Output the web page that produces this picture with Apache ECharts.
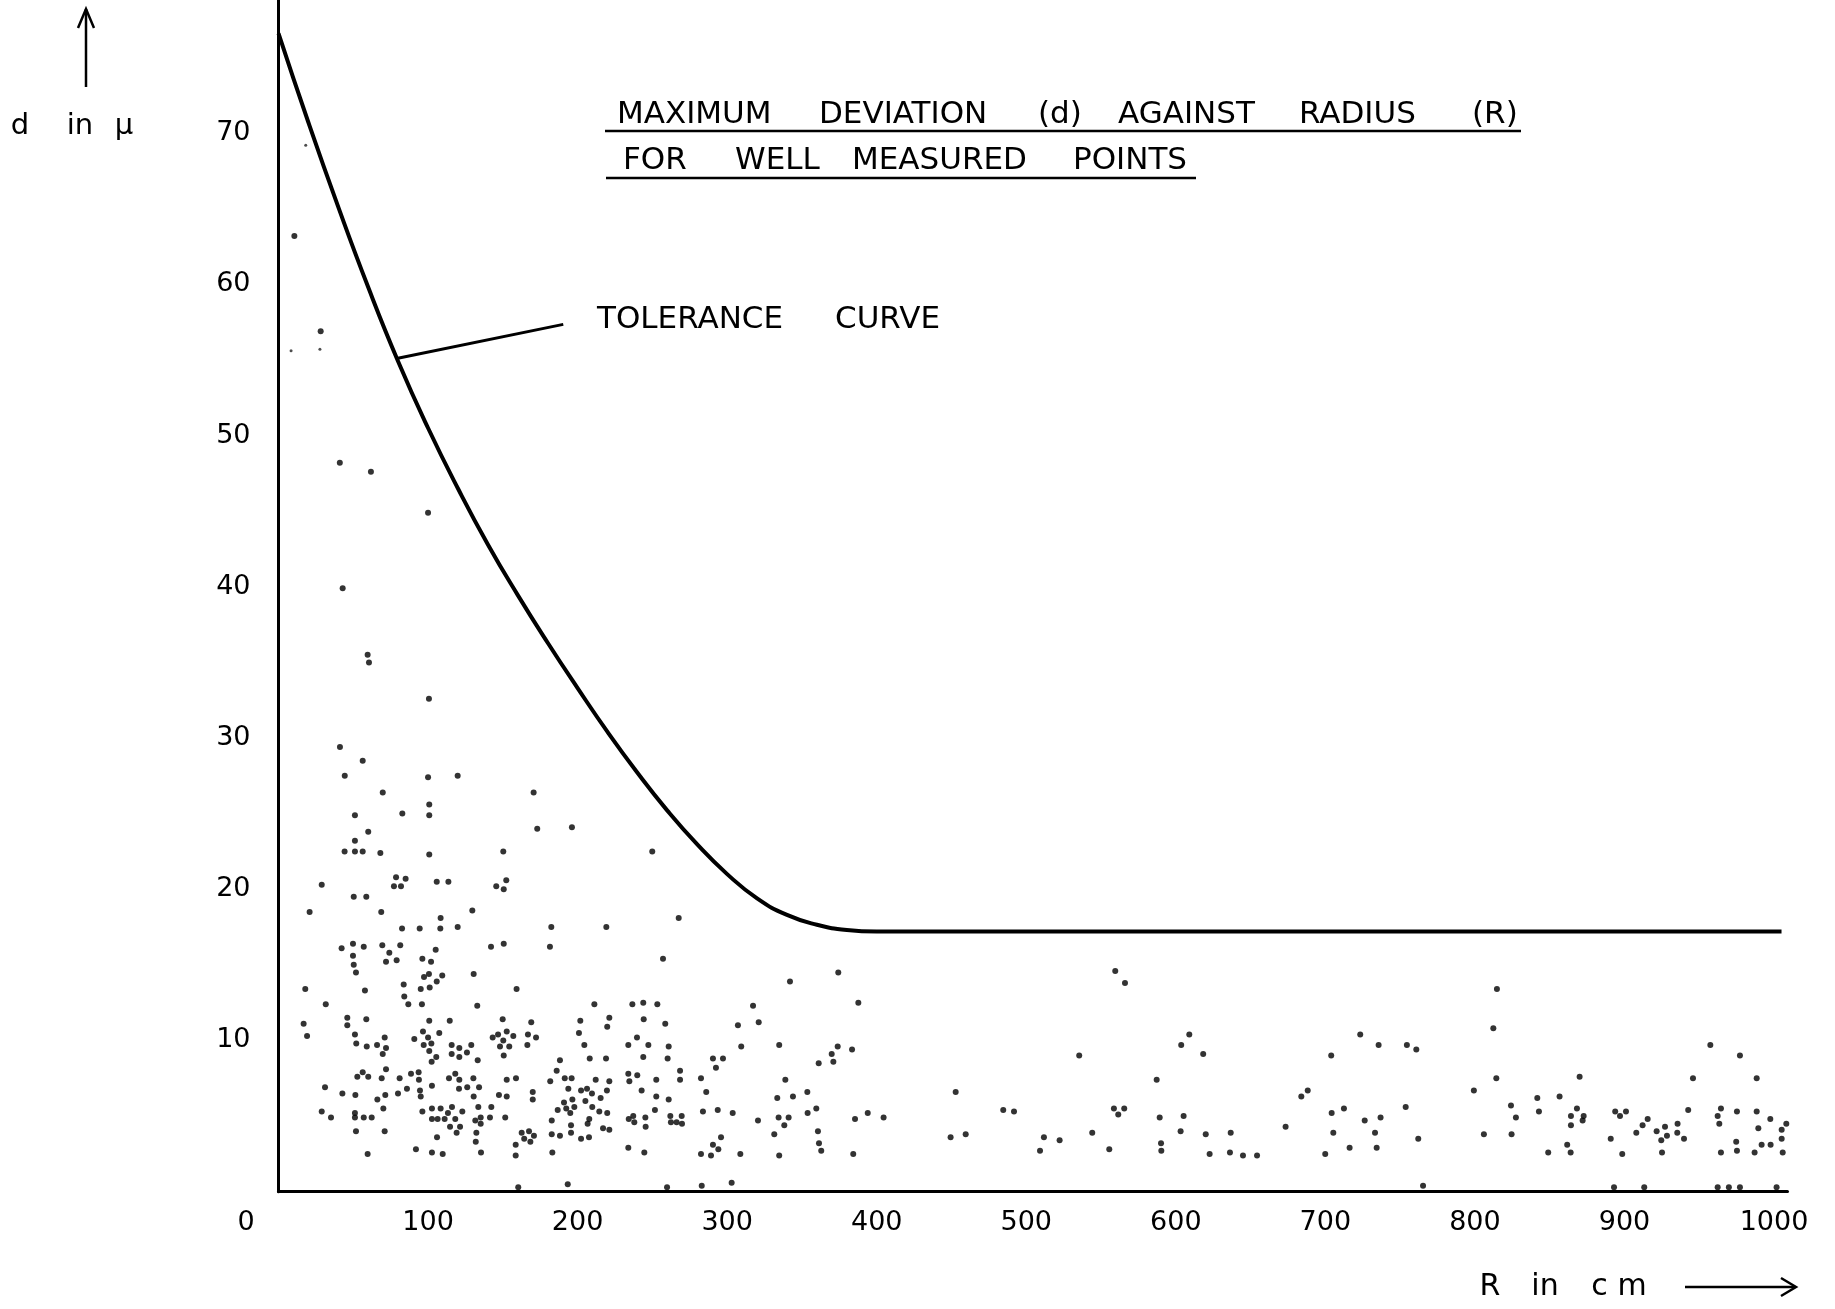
<!DOCTYPE html>
<html>
<head>
<meta charset="utf-8">
<script src="https://cdn.jsdelivr.net/npm/echarts@6/dist/echarts.min.js"></script>
<style>
html, body { margin: 0; padding: 0; background: #fff; }
#chart { width: 1835px; height: 1309px; }
</style>
</head>
<body>
<div id="chart"></div>
<script>
// tick labels
const xTickLabels = [100, 200, 300, 400, 500, 600, 700, 800, 900, 1000]
const yTickLabels = [10, 20, 30, 40, 50, 60, 70]

// tolerance curve, R in cm -> d in micron
const curveR = [0, 20, 40, 60, 80, 100, 120, 140, 160, 180, 200, 220, 240, 260, 280, 300, 320, 340, 360, 380, 400, 420, 1005]
const curveD = [76.6, 70.7, 65.1, 59.8, 54.9, 50.5, 46.5, 42.8, 39.45, 36.3, 33.3, 30.4, 27.7, 25.2, 22.96, 21.0, 19.4, 18.3, 17.65, 17.3, 17.2, 17.2, 17.2]

// leader line from the label to the curve
const leaderR = [79, 190.4]
const leaderD = [55.1, 57.35]

// measured points [R, d]
const points = [
	[10.6,63.2],[28.2,56.9],[41,48.2],[61.8,47.6],[100,44.9],[42.9,39.9],[59.6,35.5],[60.5,35.0],[100.6,32.6],
	[41.1,29.4],[56.3,28.5],[44.3,27.5],[100,27.4],[119.8,27.5],[69.7,26.4],[170.6,26.4],
	[100.8,25.6],[82.8,25.0],[100.8,24.9],[51.1,24.9],[60,23.8],[51.1,23.2],[44.2,22.5],[51.1,22.5],[56.3,22.5],
	[68.1,22.4],[100.8,22.3],[150.3,22.5],[78.6,20.8],[85,20.7],[77.2,20.2],[81.9,20.2],[28.9,20.3],[105.8,20.5],
	[113.6,20.5],[145.6,20.2],[152.3,20.6],[150.6,20.0],[50.3,19.5],[58.7,19.5],[20.8,18.5],[68.7,18.5],[129.6,18.6],
	[108.4,18.1],[82.6,17.4],[94.4,17.4],[108.2,17.4],[119.8,17.5],[42.2,16.1],[49.8,16.4],[57,16.2],[69.4,16.3],
	[81.4,16.3],[142.1,16.2],[150.6,16.4],[49.8,15.6],[74.1,15.8],[105.1,16.0],[71.9,15.2],[79,15.3],[96.2,15.4],
	[102,15.2],[50.3,15.0],[51.8,14.5],[97.3,14.2],[100.6,14.4],[109.5,14.3],[130.5,14.4],[83.7,13.7],[95.1,13.4],
	[101.1,13.5],[105.8,13.9],[17.9,13.4],[57.8,13.3],[159.2,13.4],[84.1,12.9],[31.6,12.4],[86.8,12.4],[95.9,12.4],
	[132.9,12.3],
	[16.8,11.1],[19.1,10.3],[46,11.5],[46,11.0],[58.7,11.4],[51.1,10.4],[52,9.8],[59,9.6],[65.9,9.7],[71,10.2],
	[71.9,9.5],[69.7,9.1],[100.8,11.3],[114.5,11.3],[90.8,10.1],[96.6,10.6],[100,10.2],[107.5,10.5],[97.1,9.7],
	[102.2,9.8],[100.8,9.3],[105.5,8.9],[102.4,8.6],[115.8,9.7],[120.9,9.5],[128.9,9.7],[115.8,9.1],[126,9.2],
	[120.9,8.9],[133.2,8.7],[149.9,11.4],[143.2,10.2],[146.8,10.4],[152.6,10.6],[157,10.3],[150.3,10.0],[148.1,9.6],
	[154.3,9.6],[150.6,9.0],
	[56.3,7.9],[52.7,7.6],[60,7.6],[69,7.5],[71.9,8.1],[81,7.5],[88.6,7.8],[93.7,7.9],[93.9,7.4],[31.1,6.9],
	[42.7,6.5],[51.4,6.4],[66.1,6.1],[71.4,6.4],[79.9,6.5],[85.9,6.8],[94.6,6.7],[95.1,6.3],[102.6,7.0],[114,7.5],
	[118.2,7.8],[120.9,7.4],[130.3,7.5],[120.7,6.8],[126.2,6.9],[134.1,6.9],[130.5,6.3],[152.6,7.4],[158.8,7.5],
	[147.4,6.4],[152.6,6.3],
	[28.9,5.3],[35.1,4.9],[51.1,5.2],[51.1,4.9],[57,4.9],[62.3,4.9],[70.1,5.5],[51.8,4.0],[71,4.0],[59.6,2.5],
	[96.2,5.3],[102.6,5.5],[108.4,5.5],[113.3,5.2],[116,5.6],[122.9,5.3],[102.6,4.8],[106.4,4.8],[111.1,4.8],
	[118.2,4.8],[114.7,4.3],[121.4,4.3],[119.1,3.9],[133.6,5.6],[135.2,4.9],[131.6,4.7],[135.2,4.5],[142.3,5.6],
	[141.4,4.9],[151.6,4.9],[132.3,3.9],[131.9,3.3],[106,3.6],[91.9,2.8],[102.6,2.6],[109.8,2.5],[135.4,2.6],
	[158.6,3.1],[158.6,2.4],[160.3,0.3],
	[173,24.0],[196.2,24.1],[249.9,22.5],[182.4,17.5],[219.2,17.5],[267.6,18.1],[181.5,16.2],[257.1,15.4],
	[211.2,12.4],[236.6,12.4],[243.9,12.5],[253.3,12.4],[317.3,12.3],[169,11.2],[166.8,10.4],[172.2,10.2],
	[166.4,9.7],[201.8,11.3],[221.2,11.5],[219.8,10.9],[200.9,10.5],[204.5,9.7],[208.1,8.8],[219,8.8],[188.2,8.7],
	[186,8.0],[181.7,7.3],[191.4,7.5],[196,7.5],[212.1,7.4],[221.2,7.3],[193.8,6.8],[202.3,6.7],[206.3,6.8],
	[209.6,6.5],[219.6,6.7],[170,6.6],[170,6.1],[190.9,5.9],[196.5,6.1],[205.2,6.0],[215.4,6.2],[186.7,5.4],
	[192.4,5.5],[197.8,5.6],[195.1,5.2],[209.8,5.6],[214.5,5.3],[219.8,5.2],[182.7,4.7],[195.6,4.4],[207.8,4.8],
	[206.7,4.5],[217,4.2],[221.2,4.1],[182.7,3.8],[188.2,3.7],[195.6,3.9],[202.3,3.5],[207.6,3.6],[183.1,2.6],
	[193.4,0.5],[162.6,3.9],[167.5,4.0],[164.3,3.5],[168.4,3.3],[170.8,3.7],
	[233.9,9.7],[239.7,10.2],[247.3,9.7],[244.2,11.4],[258.6,11.1],[260.9,9.6],[243.9,8.9],[260.2,8.8],[268.5,8.0],
	[233.9,7.8],[239.9,7.7],[234.6,7.3],[252.6,7.4],[268.5,7.4],[242.8,6.7],[252.6,6.3],[260.9,6.1],[251.7,5.4],
	[234.2,4.8],[237.2,5.0],[237.9,4.6],[245.3,4.9],[245.5,4.3],[262,5.0],[262.4,4.6],[266.2,4.6],[269.6,5.0],
	[269.8,4.5],[233.9,2.9],[244.6,2.6],[259.8,0.3],
	[282.5,7.5],[286,6.6],[290.5,8.8],[297.2,8.8],[292.5,8.2],[283.8,5.3],[293.7,5.4],[303.7,5.2],[307.2,11.0],
	[309.4,9.6],[321.1,11.2],[334.8,9.7],[320.6,4.7],[333.5,6.2],[334.4,4.9],[331.5,3.8],[334.8,2.4],[295.9,3.6],
	[290.5,3.1],[294.1,2.8],[282.5,2.5],[289.2,2.4],[308.8,2.5],[283,0.4],[303,0.6],
	[342,13.9],[374.3,14.5],[387.7,12.5],[373.9,9.6],[369.9,9.1],[371,8.6],[361.2,8.5],[383.5,9.4],[338.9,7.4],
	[344,6.3],[353.6,6.6],[341.1,4.9],[338.2,4.4],[353.8,5.2],[359.6,5.5],[360.7,4.0],[361.4,3.2],[362.9,2.7],
	[384.3,2.5],[385.5,4.8],[394,5.2],[404.6,4.9],[452.8,6.6],[449.4,3.6],[459.5,3.8],[484.6,5.4],[491.8,5.3],
	[511.8,3.6],[509.2,2.7],[522.3,3.4],[535.4,9.0],[544.1,3.9],[555.5,2.8],[559.5,14.6],[566,13.8],[558.6,5.5],
	[561.5,5.1],[565.5,5.5],
	[587.2,7.4],[589.2,4.9],[590.1,3.2],[590.3,2.7],[603.6,9.7],[609,10.4],[618.3,9.1],[605.2,5.0],[603.2,4.0],
	[620,3.8],[622.6,2.5],[636.7,3.9],[636.2,2.6],[644.9,2.4],[654.3,2.4],[673.4,4.3],[683.9,6.3],[688.2,6.7],
	[703.9,9.0],[704.2,5.2],[705.3,3.9],[699.9,2.5],[712.4,5.5],[716.2,2.9],[723.3,10.4],[726.3,4.7],[735.6,9.7],
	[736.9,4.9],[733.2,3.9],[734.3,2.9],[754.5,9.7],[760.8,9.4],[753.7,5.6],[762.1,3.5],[765.3,0.4],[799.3,6.7],
	[814.7,13.4],[812.3,10.8],[814.3,7.5],[806,3.8],[824.1,5.7],[827.4,4.9],[824.5,3.8],[841.7,6.2],[842.8,5.3],
	[849,2.6],[856.6,6.3],[870,7.6],[868.2,5.5],[864.2,5.0],[872.7,5.0],[864.2,4.4],[872,4.7],[861.7,3.1],[864,2.6],
	[890.8,3.5],[893.8,5.3],[897,5.0],[901,5.3],[898.5,2.5],[893,0.3],[907.9,3.9],[912.1,4.4],[915.5,4.8],
	[913.2,0.3],[921.5,4.0],[924.6,3.4],[927.1,4.3],[928.4,3.7],[925.1,2.6],[935.5,4.5],[935.3,3.9],[939.8,3.5],
	[942.6,5.4],[945.8,7.5],[957.4,9.7],[977.2,9.0],[962.3,5.0],[964.5,5.5],[963.4,4.5],[964.5,2.6],[962.3,0.3],
	[969.8,0.3],[977.2,0.3],[975.2,5.3],[974.7,3.3],[975.2,2.7],[988.4,7.5],[988.4,5.3],[989.5,4.2],[991.7,3.1],
	[987,2.6],[997.5,4.8],[997.7,3.1],[1005.1,4.1],[1005.1,3.5],[1008.2,4.5],[1005.8,2.6],[1001.7,0.3]
]
// the few very faint specks
const faintPoints = [[18.2,69.2],[27.7,55.7],[8.4,55.6]]

const FONT = '"DejaVu Sans", sans-serif'

const chart = echarts.init(document.getElementById('chart'))

const txt = (text, x, y, size, align) => ({
	type: 'text', x: x, y: y, silent: true,
	style: {
		text: text, font: size + 'px ' + FONT, fill: '#000',
		align: align || 'left', verticalAlign: 'middle',
		textAlign: align || 'left', textVerticalAlign: 'middle'
	}
})
const seg = (x1, y1, x2, y2, w) => ({
	type: 'line', silent: true,
	shape: { x1: x1, y1: y1, x2: x2, y2: y2 },
	style: { stroke: '#000', lineWidth: w || 2.5 }
})
const poly = (pts, w) => ({
	type: 'polyline', silent: true,
	shape: { points: pts },
	style: { stroke: '#000', lineWidth: w || 2.5, fill: null }
})

const option = {
	animation: false,
	backgroundColor: '#fff',
	grid: { left: 278.5, top: 0, right: 47.5, bottom: 117.3, containLabel: false },
	xAxis: {
		type: 'value', min: 0, max: 1009, interval: 100,
		axisLine: { show: true, onZero: false, lineStyle: { color: '#000', width: 3 } },
		axisTick: { show: false },
		splitLine: { show: false },
		axisLabel: {
			margin: 18, color: '#000', fontSize: 27, fontFamily: FONT,
			formatter: v => (xTickLabels.indexOf(v) >= 0 ? String(v) : '')
		}
	},
	yAxis: {
		type: 'value', min: 0, max: 78.8, interval: 10,
		axisLine: { show: true, onZero: false, lineStyle: { color: '#000', width: 3 } },
		axisTick: { show: false },
		splitLine: { show: false },
		axisLabel: {
			margin: 28, color: '#000', fontSize: 27, fontFamily: FONT,
			formatter: v => (yTickLabels.indexOf(v) >= 0 ? String(v) : '')
		}
	},
	graphic: [
		// title
		txt('MAXIMUM', 617, 115, 31), txt('DEVIATION', 819, 115, 31), txt('(d)', 1038, 115, 31),
		txt('AGAINST', 1118, 115, 31), txt('RADIUS', 1299, 115, 31), txt('(R)', 1472, 115, 31),
		seg(605, 131, 1521, 131, 2.5),
		txt('FOR', 623, 161, 31), txt('WELL', 735, 161, 31), txt('MEASURED', 852, 161, 31), txt('POINTS', 1073, 161, 31),
		seg(606, 178, 1196, 178, 2.5),
		// label of the curve
		txt('TOLERANCE', 597, 320, 31), txt('CURVE', 835, 320, 31),
		// y axis name
		txt('d', 20, 126, 29, 'center'), txt('in', 80, 126, 29, 'center'), txt('\u03bc', 124, 126, 29, 'center'),
		seg(86, 87, 86, 9, 2.5),
		poly([[78, 28], [86, 9], [94, 28]], 2.5),
		// corner zero
		txt('0', 246, 1223, 27, 'center'),
		// x axis name
		txt('R', 1490, 1287, 30, 'center'), txt('in', 1545, 1287, 30, 'center'), txt('c m', 1619, 1287, 30, 'center'),
		seg(1685, 1287, 1795, 1287, 2.5),
		poly([[1781, 1278], [1796, 1287], [1781, 1296]], 2.5)
	],
	series: [
		{
			name: 'tolerance',
			type: 'line',
			data: curveR.map((r, i) => [r, curveD[i]]),
			smooth: 0.5,
			showSymbol: false,
			lineStyle: { color: '#000', width: 4 },
			z: 3
		},
		{
			name: 'leader',
			type: 'line',
			data: leaderR.map((r, i) => [r, leaderD[i]]),
			showSymbol: false,
			lineStyle: { color: '#000', width: 3 },
			z: 3
		},
		{
			name: 'points',
			type: 'scatter',
			data: points,
			symbol: 'circle',
			symbolSize: 6,
			itemStyle: { color: '#000' }
		},
		{
			name: 'faint',
			type: 'scatter',
			data: faintPoints,
			symbol: 'circle',
			symbolSize: 3,
			itemStyle: { color: '#222' }
		}
	]
}

chart.setOption(option)
</script>
</body>
</html>
